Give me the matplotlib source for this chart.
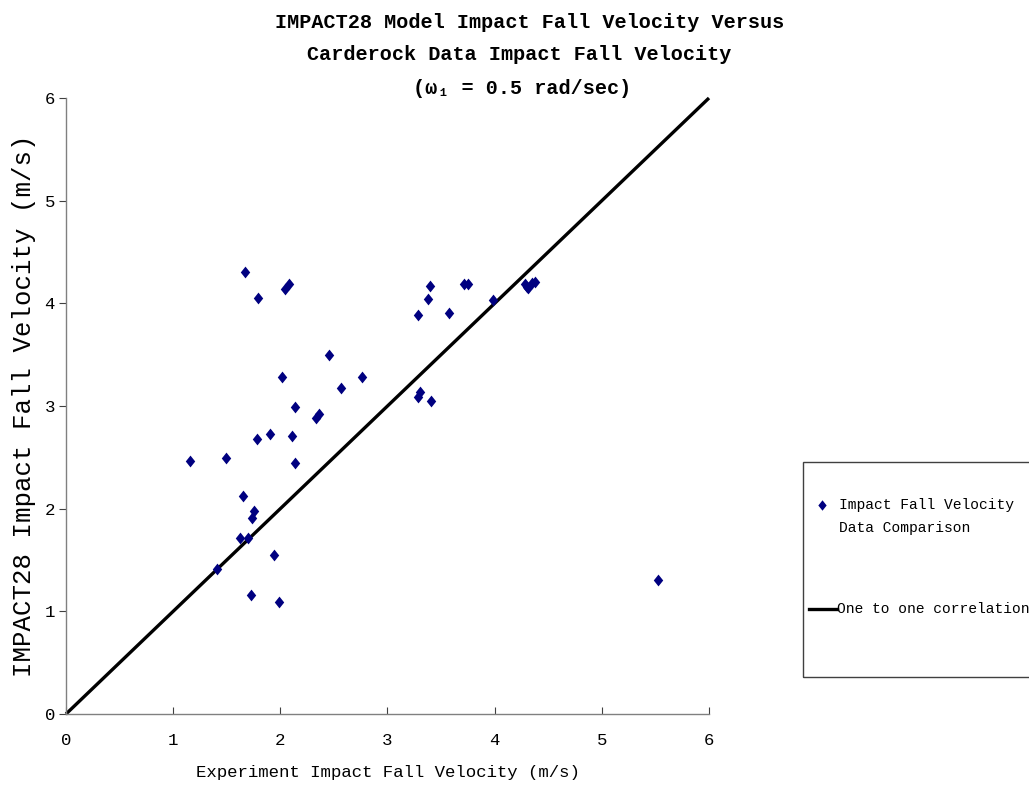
import matplotlib
matplotlib.use("Agg")
import matplotlib.pyplot as plt
from matplotlib.lines import Line2D
from matplotlib.patches import Rectangle

# measured vs modelled impact fall velocity (m/s)
experiment_v = [1.67, 1.79, 2.04, 2.08, 2.45, 2.02, 2.76, 2.57, 2.14, 2.33,
                2.36, 1.78, 1.90, 2.11, 2.14, 1.16, 1.49, 1.65, 1.75, 1.74,
                1.70, 1.62, 1.94, 1.41, 1.73, 1.99, 3.40, 3.38, 3.28, 3.57,
                3.71, 3.75, 3.98, 4.28, 4.31, 4.35, 4.38, 4.30, 3.30, 3.28,
                3.41, 5.52]
impact28_v = [4.31, 4.05, 4.14, 4.19, 3.50, 3.28, 3.28, 3.18, 2.99, 2.88,
              2.92, 2.68, 2.73, 2.71, 2.44, 2.46, 2.49, 2.12, 1.98, 1.91,
              1.71, 1.71, 1.55, 1.41, 1.16, 1.09, 4.17, 4.04, 3.89, 3.91,
              4.19, 4.19, 4.03, 4.19, 4.15, 4.20, 4.21, 4.16, 3.14, 3.09,
              3.05, 1.31]
one_to_one = [0, 6]
ticks = [0, 1, 2, 3, 4, 5, 6]

mono = "Liberation Mono"
navy = "#000080"
diamond = [(0, 1), (0.8, 0), (0, -1), (-0.8, 0), (0, 1)]

fig = plt.figure(figsize=(10.29, 7.92), dpi=100)
ax = fig.add_axes([66 / 1029, 1 - 714 / 792, 643 / 1029, 616 / 792])

ax.plot(one_to_one, one_to_one, color="black", lw=2.4,
        solid_capstyle="butt", zorder=2, clip_on=False)
ax.plot(experiment_v, impact28_v, linestyle="none", marker=diamond,
        markersize=8.5, color=navy, markeredgewidth=0, zorder=3, clip_on=False)

ax.set_xlim(0, 6)
ax.set_ylim(0, 6)
ax.set_xticks(ticks)
ax.set_yticks(ticks)
for side in ["top", "right"]:
    ax.spines[side].set_visible(False)
for side in ["left", "bottom"]:
    ax.spines[side].set_color("#808080")
    ax.spines[side].set_linewidth(1.0)
ax.tick_params(axis="x", direction="in", length=5, color="#404040",
               labelsize=12.5, pad=14)
ax.tick_params(axis="y", direction="out", length=5, color="#404040",
               labelsize=12.5, pad=3)
for lab in ax.get_xticklabels() + ax.get_yticklabels():
    lab.set_fontfamily(mono)

ax.set_xlabel("Experiment Impact Fall Velocity (m/s)", fontfamily=mono,
              fontsize=12.5, labelpad=12)
ax.set_ylabel("IMPACT28 Impact Fall Velocity (m/s)", fontfamily=mono,
              fontsize=18.5, labelpad=6)

# three-line title centred over the chart
title_kw = dict(ha="center", va="center", fontweight="bold",
                family=[mono, "DejaVu Sans Mono"])
fig.text(0.515, 1 - 22 / 792, "IMPACT28 Model Impact Fall Velocity Versus",
         fontsize=14.5, **title_kw)
fig.text(0.505, 1 - 55 / 792, "Carderock Data Impact Fall Velocity",
         fontsize=14.5, **title_kw)
fig.text(0.507, 1 - 88 / 792, "(\u03c9\u2081 = 0.5 rad/sec)",
         fontsize=14.5, **title_kw)

# legend box on the right, running off the edge of the figure
fig.patches.append(Rectangle((803 / 1029, 1 - 677 / 792), 0.3, 215 / 792,
                             transform=fig.transFigure, fill=False,
                             edgecolor="#404040", lw=1.0))
fig.lines.append(Line2D([822 / 1029], [1 - 505 / 792], marker=diamond,
                        markersize=7.5, color=navy, markeredgewidth=0,
                        transform=fig.transFigure))
fig.text(839 / 1029, 1 - 505 / 792, "Impact Fall Velocity",
         fontfamily=mono, fontsize=10.5, va="center")
fig.text(839 / 1029, 1 - 528 / 792, "Data Comparison",
         fontfamily=mono, fontsize=10.5, va="center")
fig.lines.append(Line2D([809 / 1029, 837 / 1029], [1 - 609 / 792] * 2,
                        color="black", lw=2.4, transform=fig.transFigure))
fig.text(837 / 1029, 1 - 609 / 792, "One to one correlation",
         fontfamily=mono, fontsize=10.5, va="center")

fig.savefig("out.png", dpi=100)
